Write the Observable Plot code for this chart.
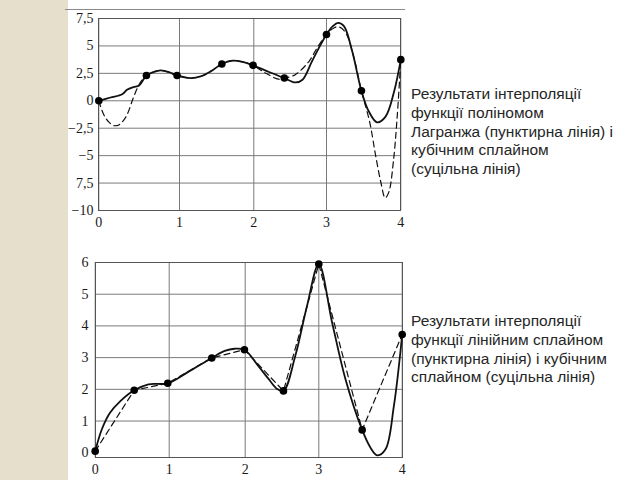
<!DOCTYPE html>
<html>
<head>
<meta charset="utf-8">
<script src="https://cdn.jsdelivr.net/npm/d3@7"></script>
<script src="https://cdn.jsdelivr.net/npm/@observablehq/plot@0.6"></script>
<style>
  body { margin:0; width:640px; height:480px; position:relative; overflow:hidden; background:#fff; }
  .strip { position:absolute; left:0; top:0; width:68px; height:480px; background:#e5dfcc; }
  .topline { position:absolute; left:65px; top:9px; width:340px; height:1px; background:#8a8a8a; }
  .chart { position:absolute; left:0; }
  .note { position:absolute; left:411px; font-family:"Liberation Sans", Arial, sans-serif; font-size:15.5px; line-height:18.8px; color:#262626; white-space:nowrap; }
</style>
</head>
<body>
<div class="strip"></div>
<div class="topline"></div>
<div id="top" class="chart" style="top:0"></div>
<div id="bot" class="chart" style="top:240px"></div>
<div class="note" style="top:85px">Результати інтерполяції<br>функції поліномом<br>Лагранжа (пунктирна лінія) і<br>кубічним сплайном<br>(суцільна лінія)</div>
<div class="note" style="top:312px">Результати інтерполяції<br>функції лінійним сплайном<br>(пунктирна лінія) і кубічним<br>сплайном (суцільна лінія)</div>
<script>
// ---------- top chart: Lagrange polynomial vs cubic spline ----------
const topXTicks = [0, 1, 2, 3, 4];
const topXLabels = ["0", "1", "2", "3", "4"];
const topYTicks = [-10, -7.5, -5, -2.5, 0, 2.5, 5, 7.5];
const topYLabels = ["−10", "7,5", "−5", "−2,5", "0", "2,5", "5", "7,5"];

const topNodesX = [0, 0.59, 0.97, 1.57, 1.99, 2.42, 3.0, 3.47, 4.0];
const topNodesY = [0, 2.31, 2.31, 3.35, 3.23, 2.07, 6.04, 0.91, 3.75];

const topSplineX = [0, 0.145, 0.29, 0.35, 0.43, 0.50, 0.59, 0.68, 0.765, 0.87, 0.97, 1.15, 1.285, 1.42, 1.57, 1.71, 1.85, 1.99, 2.21, 2.42, 2.57, 2.67, 2.80, 2.92, 3.0, 3.085, 3.158, 3.235, 3.346, 3.47, 3.57, 3.68, 3.795, 3.91, 4.0];
const topSplineY = [0, 0.3, 0.6, 1.0, 1.25, 1.4, 2.31, 2.62, 2.77, 2.62, 2.31, 2.07, 2.22, 2.68, 3.35, 3.66, 3.55, 3.23, 2.62, 2.07, 1.67, 1.92, 3.6, 5.12, 6.04, 6.8, 7.1, 6.8, 4.51, 0.91, -0.98, -1.96, -1.44, 0.85, 3.75];

const topLagrangeX = [0, 0.062, 0.125, 0.186, 0.248, 0.30, 0.35, 0.434, 0.51, 0.59, 0.765, 0.97, 1.15, 1.285, 1.42, 1.57, 1.71, 1.85, 1.99, 2.16, 2.34, 2.42, 2.57, 2.76, 2.87, 3.0, 3.1, 3.17, 3.26, 3.37, 3.47, 3.58, 3.66, 3.73, 3.79, 3.84, 3.90, 3.95, 4.0];
const topLagrangeY = [0, -1.28, -1.95, -2.26, -2.2, -1.85, -1.28, 0.39, 1.61, 2.31, 2.77, 2.31, 2.07, 2.22, 2.68, 3.35, 3.66, 3.55, 3.23, 2.53, 1.97, 2.07, 2.38, 3.6, 4.81, 6.04, 6.64, 6.73, 6.18, 3.9, 0.91, -1.9, -4.94, -7.38, -8.85, -8.3, -5.55, -1.59, 3.75];

// ---------- bottom chart: linear spline vs cubic spline ----------
const botXTicks = [0, 1, 2, 3, 4];
const botXLabels = ["0", "1", "2", "3", "4"];
const botYTicks = [0, 1, 2, 3, 4, 5, 6];
const botYLabels = ["0", "1", "2", "3", "4", "5", "6"];
const botGridY = [1, 2, 3, 4, 5, 6];

const botNodesX = [0, 0.527, 0.98, 1.56, 1.99, 2.52, 3.0, 3.52, 4.0];
const botNodesY = [0.05, 1.97, 2.19, 2.99, 3.25, 1.95, 5.95, 0.72, 3.73];

const botSplineX = [0, 0.09, 0.2, 0.34, 0.527, 0.72, 0.98, 1.25, 1.56, 1.73, 1.86, 1.99, 2.18, 2.32, 2.43, 2.52, 2.68, 2.84, 3.0, 3.16, 3.32, 3.52, 3.62, 3.70, 3.80, 3.90, 4.0];
const botSplineY = [0.05, 0.74, 1.26, 1.63, 1.97, 2.16, 2.19, 2.55, 2.99, 3.21, 3.28, 3.25, 2.73, 2.32, 2.02, 1.95, 3.05, 4.63, 5.95, 4.1, 2.32, 0.72, 0.16, -0.08, 0.11, 1.47, 3.73];

const pts = (xs, ys) => xs.map((x, i) => ({x, y: ys[i]}));
const fmt = (ticks, labels) => d => labels[ticks.indexOf(d)];

const gridColor = "#7a7a7a";
const style = "background: transparent; font-family: 'Liberation Serif', 'DejaVu Serif', serif; font-size: 14px; color: #1a1a1a;";
const axisFont = {fontSize: 14, fontFamily: "'Liberation Serif', 'DejaVu Serif', serif", fill: "#1a1a1a"};

// the scanned original has slightly uneven x grid spacing: a piecewise-linear x scale reproduces it
const topPlot = Plot.plot({
  width: 420, height: 240,
  marginLeft: 98, marginRight: 20, marginTop: 18, marginBottom: 30,
  style,
  x: {type: "linear", domain: [0, 1, 2, 3, 4], range: [98.3, 179, 253.3, 326, 400.3]},
  y: {type: "linear", domain: [-10, 7.5]},
  marks: [
    Plot.gridX(topXTicks, {stroke: gridColor, strokeOpacity: 1}),
    Plot.gridY(topYTicks, {stroke: gridColor, strokeOpacity: 1}),
    Plot.frame({stroke: "#555"}),
    Plot.axisX(topXTicks, {tickFormat: fmt(topXTicks, topXLabels), tickSize: 0, tickPadding: 7, label: null, ...axisFont}),
    Plot.axisY(topYTicks, {tickFormat: fmt(topYTicks, topYLabels), tickSize: 0, tickPadding: 5, label: null, ...axisFont}),
    Plot.line(pts(topLagrangeX, topLagrangeY), {x: "x", y: "y", curve: "catmull-rom", stroke: "#111", strokeWidth: 1.2, strokeDasharray: "6,4"}),
    Plot.line(pts(topSplineX, topSplineY), {x: "x", y: "y", curve: "catmull-rom", stroke: "#111", strokeWidth: 1.8}),
    Plot.dot(pts(topNodesX, topNodesY), {x: "x", y: "y", r: 3.8, fill: "#000", stroke: "none"})
  ]
});
document.getElementById("top").appendChild(topPlot);

const botPlot = Plot.plot({
  width: 420, height: 240,
  marginLeft: 95, marginRight: 18, marginTop: 22, marginBottom: 23,
  style,
  x: {type: "linear", domain: [0, 1, 2, 3, 4], range: [94.7, 168.7, 244.7, 318.3, 401.7]},
  y: {type: "linear", domain: [-0.15, 6]},
  marks: [
    Plot.gridX(botXTicks, {stroke: gridColor, strokeOpacity: 1}),
    Plot.gridY(botGridY, {stroke: gridColor, strokeOpacity: 1}),
    Plot.frame({stroke: "#555"}),
    Plot.axisX(botXTicks, {tickFormat: fmt(botXTicks, botXLabels), tickSize: 0, tickPadding: 7, label: null, ...axisFont}),
    Plot.axisY(botYTicks, {tickFormat: fmt(botYTicks, botYLabels), tickSize: 0, tickPadding: 7, label: null, ...axisFont}),
    Plot.line(pts(botNodesX, botNodesY), {x: "x", y: "y", stroke: "#111", strokeWidth: 1.2, strokeDasharray: "6,4"}),
    Plot.line(pts(botSplineX, botSplineY), {x: "x", y: "y", curve: "catmull-rom", stroke: "#111", strokeWidth: 1.8}),
    Plot.dot(pts(botNodesX, botNodesY), {x: "x", y: "y", r: 3.8, fill: "#000", stroke: "none"})
  ]
});
document.getElementById("bot").appendChild(botPlot);
</script>
</body>
</html>
